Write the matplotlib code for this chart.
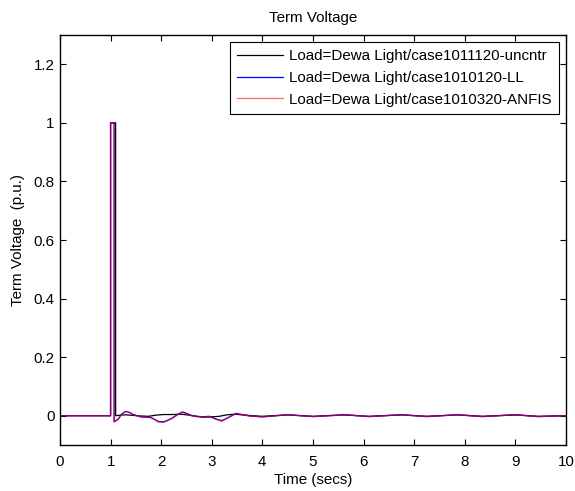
import matplotlib
matplotlib.use("Agg")
import matplotlib.pyplot as plt

plt.rcParams['font.family'] = ['Liberation Sans', 'DejaVu Sans']

# --- data ---
t_unc = [0, 1.0, 1.0, 1.1, 1.1, 1.2, 1.3, 1.45, 1.6, 1.75, 1.9, 2.05, 2.2, 2.4, 2.55,
         2.7, 2.85, 3.0, 3.15, 3.3, 3.45, 3.6, 3.8, 4.0, 4.5, 5.0, 5.6, 6.1, 6.75,
         7.25, 7.85, 8.35, 9.0, 9.45, 10.0]
v_unc = [0, 0, 1.0, 1.0, 0, 0.002, 0.003, 0.001, -0.001, -0.002, 0.002, 0.004, 0.004,
         0.005, 0.002, -0.003, -0.005, -0.004, -0.002, 0.003, 0.005, 0.003, 0.0, -0.002,
         0.003, -0.002, 0.003, -0.002, 0.003, -0.002, 0.003, -0.002, 0.003, -0.002, 0.0]

t_ll = [0, 1.0, 1.0, 1.07, 1.07, 1.15, 1.22, 1.3, 1.38, 1.45, 1.6, 1.8, 1.95, 2.05,
        2.2, 2.32, 2.42, 2.5, 2.6, 2.8, 2.95, 3.1, 3.2, 3.35, 3.48, 3.6, 3.75, 4.0,
        4.5, 5.0, 5.65, 6.1, 6.75, 7.25, 7.85, 8.35, 9.0, 9.45, 10.0]
v_ll = [0, 0, 1.0, 1.0, -0.02, -0.012, 0.006, 0.015, 0.011, 0.004, -0.004, -0.006,
        -0.02, -0.021, -0.01, 0.004, 0.013, 0.008, 0.001, -0.004, -0.002, -0.012,
        -0.017, -0.004, 0.008, 0.004, -0.001, -0.004, 0.003, -0.003, 0.003, -0.003,
        0.003, -0.003, 0.003, -0.003, 0.003, -0.003, 0.0]

t_anfis = [0, 1.0, 1.0, 1.07, 1.07, 1.15, 1.22, 1.3, 1.38, 1.45, 1.6, 1.8, 1.95, 2.05,
           2.2, 2.32, 2.42, 2.5, 2.6, 2.8, 2.95, 3.1, 3.2, 3.35, 3.48, 3.6, 3.75, 4.0,
           4.5, 5.0, 5.65, 6.1, 6.75, 7.25, 7.85, 8.35, 9.0, 9.45, 10.0]
v_anfis = [0, 0, 1.0, 1.0, -0.022, -0.013, 0.005, 0.014, 0.010, 0.003, -0.004, -0.007,
           -0.022, -0.023, -0.011, 0.002, 0.011, 0.007, 0.0, -0.004, -0.003, -0.014,
           -0.019, -0.005, 0.007, 0.003, -0.001, -0.004, 0.003, -0.003, 0.003, -0.003,
           0.003, -0.003, 0.003, -0.003, 0.003, -0.003, 0.0]

labels = ['Load=Dewa Light/case1011120-uncntr',
          'Load=Dewa Light/case1010120-LL',
          'Load=Dewa Light/case1010320-ANFIS']
x_ticks = list(range(0, 11))
y_ticks = [0, 0.2, 0.4, 0.6, 0.8, 1, 1.2]
y_tick_labels = ['0', '0.2', '0.4', '0.6', '0.8', '1', '1.2']

FS = 10.9

fig = plt.figure(figsize=(5.75, 4.91), dpi=100)
ax = fig.add_axes([0.1043, 0.0937, 0.880, 0.835])

ax.plot(t_unc, v_unc, color='black', lw=0.9, label=labels[0])
ax.plot(t_ll, v_ll, color='blue', lw=0.9, label=labels[1])
ax.plot(t_anfis, v_anfis, color='#ff0000', lw=1.0, alpha=0.55, label=labels[2])

ax.set_xlim(0, 10)
ax.set_ylim(-0.1, 1.3)
ax.set_xticks(x_ticks)
ax.set_xticklabels([str(v) for v in x_ticks])
ax.set_yticks(y_ticks)
ax.set_yticklabels(y_tick_labels)
ax.tick_params(direction='in', top=True, right=True, length=4, width=0.8,
               labelsize=FS, colors='black')
ax.tick_params(axis='x', pad=7)
ax.tick_params(axis='y', pad=4)
for s in ax.spines.values():
    s.set_linewidth(1.0)
    s.set_color('black')

ax.set_title('Term Voltage', fontsize=FS, pad=9.5)
ax.set_xlabel('Time (secs)', fontsize=FS, labelpad=3)
ax.set_ylabel('Term Voltage  (p.u.)', fontsize=FS, labelpad=6)

leg = ax.legend(loc='upper right', fontsize=FS, frameon=True, fancybox=False,
                edgecolor='black', framealpha=1, borderaxespad=0.45,
                handlelength=3.0, handletextpad=0.4, labelspacing=0.5,
                borderpad=0.5)
leg.get_frame().set_linewidth(0.8)

fig.savefig('out.png', dpi=100)
